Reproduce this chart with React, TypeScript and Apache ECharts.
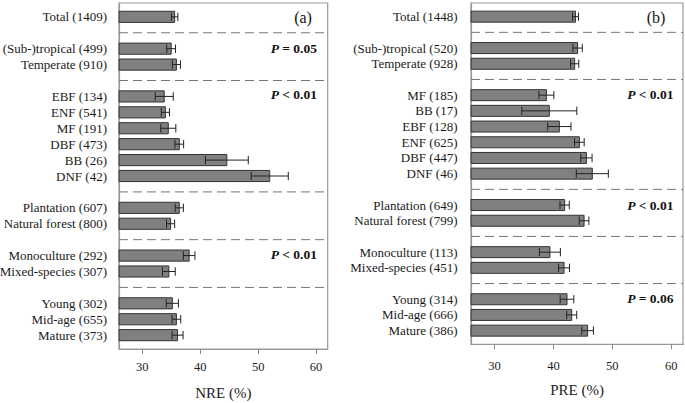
import React, { useEffect, useRef } from "react";
import * as echarts from "echarts";

// ---- data ----
const groupSizes = [1, 2, 6, 2, 2, 3];

const nreLabels = [
  "Total (1409)", "(Sub-)tropical (499)", "Temperate (910)",
  "EBF (134)", "ENF (541)", "MF (191)", "DBF (473)", "BB (26)", "DNF (42)",
  "Plantation (607)", "Natural forest (800)",
  "Monoculture (292)", "Mixed-species (307)",
  "Young (302)", "Mid-age (655)", "Mature (373)",
];
const nreMeans = [35.6, 35.0, 35.9, 33.8, 34.0, 34.5, 36.4, 44.6, 52.0, 36.4, 34.9, 38.1, 34.6, 35.2, 35.9, 36.1];
const nreErrors = [0.55, 0.75, 0.7, 1.55, 0.7, 1.3, 0.75, 3.7, 3.2, 0.7, 0.7, 1.0, 1.1, 1.05, 0.75, 0.95];

const preLabels = [
  "Total (1448)", "(Sub-)tropical (520)", "Temperate (928)",
  "MF (185)", "BB (17)", "EBF (128)", "ENF (625)", "DBF (447)", "DNF (46)",
  "Plantation (649)", "Natural forest (799)",
  "Monoculture (113)", "Mixed-species (451)",
  "Young (314)", "Mid-age (666)", "Mature (386)",
];
const preMeans = [43.75, 44.1, 43.6, 38.8, 39.3, 41.0, 44.4, 45.6, 46.6, 41.9, 45.2, 39.4, 41.8, 42.3, 43.1, 45.8];
const preErrors = [0.5, 0.8, 0.7, 1.27, 4.67, 1.98, 0.82, 0.96, 2.72, 0.79, 0.82, 1.78, 0.93, 1.16, 0.85, 0.99];

const xTicks = [30, 40, 50, 60];
const xMin = 26;
const xMax = 62;

const nreNotes = [
  { text: "{t|(a)}", x: 303, y: 17, align: "center" },
  { text: "{i|P}{b| = 0.05}", x: 317, y: 48, align: "right" },
  { text: "{i|P}{b| < 0.01}", x: 317, y: 94.5, align: "right" },
  { text: "{i|P}{b| < 0.01}", x: 317, y: 254, align: "right" },
];
const preNotes = [
  { text: "{t|(b)}", x: 656, y: 17, align: "center" },
  { text: "{i|P}{b| < 0.01}", x: 673.5, y: 94.5, align: "right" },
  { text: "{i|P}{b| < 0.01}", x: 673.5, y: 205.5, align: "right" },
  { text: "{i|P}{b| = 0.06}", x: 673.5, y: 298.5, align: "right" },
];

const FONT = "Liberation Serif";

function layoutSlots() {
  const rows: number[] = [];
  const seps: number[] = [];
  let s = 0;
  groupSizes.forEach((n, gi) => {
    if (gi > 0) {
      seps.push(s);
      s++;
    }
    for (let i = 0; i < n; i++) rows.push(s++);
  });
  return { rows, seps, total: s };
}

export default function App() {
  const ref = useRef<HTMLDivElement>(null);

  useEffect(() => {
    if (!ref.current) return;
    const chart = echarts.init(ref.current, null, { renderer: "svg" });
    const { rows, seps, total } = layoutSlots();
    const pad = 0.87;

    const barItem = (params: any, api: any) => {
      const m = api.value(0);
      const y = api.value(1);
      const e = api.value(2);
      const p0 = api.coord([xMin, y]);
      const p1 = api.coord([m, y]);
      const h = Math.abs(api.size([0, 1])[1]) * 0.7;
      const a = api.coord([m - e, y]);
      const b = api.coord([m + e, y]);
      const cap = h * 0.38;
      const ls = { stroke: "#222", lineWidth: 1 };
      return {
        type: "group",
        children: [
          {
            type: "rect",
            shape: { x: p0[0], y: p0[1] - h / 2, width: p1[0] - p0[0], height: h },
            style: { fill: "#808080", stroke: "#333", lineWidth: 1 },
          },
          { type: "line", shape: { x1: a[0], y1: a[1], x2: b[0], y2: b[1] }, style: ls },
          { type: "line", shape: { x1: a[0], y1: a[1] - cap, x2: a[0], y2: a[1] + cap }, style: ls },
          { type: "line", shape: { x1: b[0], y1: b[1] - cap, x2: b[0], y2: b[1] + cap }, style: ls },
        ],
      };
    };

    const sepItem = (params: any, api: any) => {
      const y = api.value(1);
      const a = api.coord([xMin, y]);
      const b = api.coord([xMax, y]);
      return {
        type: "line",
        shape: { x1: a[0], y1: a[1], x2: b[0], y2: b[1] },
        style: { stroke: "#777", lineWidth: 1, lineDash: [9, 5] },
      };
    };

    const mkX = (idx: number, name: string, labelMargin: number, nameGap: number) => ({
      type: "value",
      gridIndex: idx,
      min: xMin,
      max: xMax,
      name,
      nameLocation: "middle",
      nameGap,
      nameTextStyle: { fontFamily: FONT, fontSize: 15, color: "#222" },
      axisLine: { show: true, onZero: false, lineStyle: { color: "#999", width: 1.2 } },
      axisTick: { show: true, length: 5, customValues: xTicks, lineStyle: { color: "#888" } },
      axisLabel: {
        customValues: xTicks,
        fontFamily: FONT,
        fontSize: 12.5,
        color: "#222",
        margin: labelMargin,
      },
      splitLine: { show: false },
    });

    const mkY = (idx: number, labels: string[], margin: number) => {
      const map = new Map<number, string>();
      rows.forEach((r, i) => map.set(r, labels[i]));
      return {
        type: "value",
        gridIndex: idx,
        inverse: true,
        min: -pad,
        max: total - 1 + pad,
        axisLine: { show: true, onZero: false, lineStyle: { color: "#999", width: 1.2 } },
        axisTick: { show: false },
        splitLine: { show: false },
        axisLabel: {
          customValues: rows,
          formatter: (v: number) => map.get(Math.round(v)) || "",
          fontFamily: FONT,
          fontSize: 13,
          color: "#1a1a1a",
          margin,
        },
      };
    };

    const mkNotes = (notes: any[]) =>
      notes.map((n) => ({
        type: "text",
        x: n.x,
        y: n.y,
        style: {
          text: n.text,
          align: n.align,
          verticalAlign: "middle",
          fill: "#111",
          fontFamily: FONT,
          rich: {
            i: { fontFamily: FONT, fontSize: 13.5, fontWeight: "bold", fontStyle: "italic", fill: "#111" },
            b: { fontFamily: FONT, fontSize: 13.5, fontWeight: "bold", fill: "#111" },
            t: { fontFamily: FONT, fontSize: 16, fill: "#111" },
          },
        },
      }));

    chart.setOption({
      animation: false,
      backgroundColor: "#fff",
      textStyle: { fontFamily: FONT },
      grid: [
        {
          left: 119, width: 208.7, top: 3, bottom: 54,
          show: true, borderColor: "#999", borderWidth: 1.2,
          outerBoundsMode: "none", containLabel: false,
        },
        {
          left: 471, width: 212, top: 3, bottom: 58.7,
          show: true, borderColor: "#999", borderWidth: 1.2,
          outerBoundsMode: "none", containLabel: false,
        },
      ],
      xAxis: [mkX(0, "NRE (%)", 11, 36), mkX(1, "PRE (%)", 15.5, 38)],
      yAxis: [mkY(0, nreLabels, 12), mkY(1, preLabels, 13.5)],
      series: [
        {
          type: "custom",
          xAxisIndex: 0,
          yAxisIndex: 0,
          renderItem: sepItem,
          data: seps.map((s) => [xMin, s]),
          silent: true,
        },
        {
          type: "custom",
          xAxisIndex: 1,
          yAxisIndex: 1,
          renderItem: sepItem,
          data: seps.map((s) => [xMin, s]),
          silent: true,
        },
        {
          type: "custom",
          xAxisIndex: 0,
          yAxisIndex: 0,
          renderItem: barItem,
          encode: { x: 0, y: 1 },
          data: nreMeans.map((m, i) => [m, rows[i], nreErrors[i]]),
        },
        {
          type: "custom",
          xAxisIndex: 1,
          yAxisIndex: 1,
          renderItem: barItem,
          encode: { x: 0, y: 1 },
          data: preMeans.map((m, i) => [m, rows[i], preErrors[i]]),
        },
      ],
      graphic: [...mkNotes(nreNotes), ...mkNotes(preNotes)],
    });

    return () => chart.dispose();
  }, []);

  return (
    <div
      ref={ref}
      style={{ position: "fixed", left: 0, top: 0, width: 685, height: 403, background: "#fff" }}
    />
  );
}
